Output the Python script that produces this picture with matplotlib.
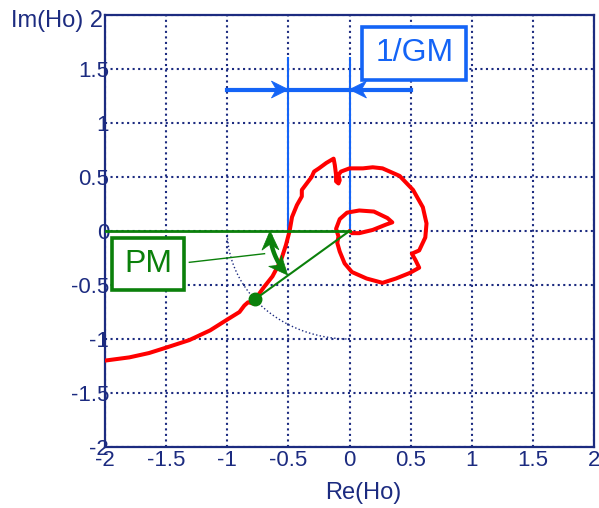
import numpy as np
import matplotlib
matplotlib.use('Agg')
import matplotlib.pyplot as plt
from matplotlib.patches import Polygon, Rectangle

# Nyquist curve Ho(jw)
re_ho = [-2.00, -1.80, -1.64, -1.50, -1.31, -1.14, -1.00, -0.90, -0.86, -0.83,
         -0.79, -0.77, -0.70, -0.63, -0.56, -0.52, -0.49, -0.47, -0.43, -0.39,
         -0.39, -0.35, -0.31, -0.29, -0.25, -0.19, -0.13, -0.12, -0.11, -0.11,
         -0.09, -0.08, -0.09, -0.07, 0.00, 0.11, 0.19, 0.27, 0.41, 0.52,
         0.60, 0.63, 0.62, 0.57, 0.51, 0.54, 0.57, 0.49, 0.38, 0.27,
         0.14, 0.02, -0.04, -0.08, -0.10, -0.09, -0.11, -0.08, -0.02, 0.08,
         0.20, 0.31, 0.35, 0.30, 0.19, 0.08, 0.02, 0.00]
im_ho = [-1.20, -1.17, -1.13, -1.08, -1.01, -0.92, -0.82, -0.75, -0.69, -0.66,
         -0.67, -0.63, -0.52, -0.42, -0.27, -0.13, 0.00, 0.13, 0.24, 0.32,
         0.38, 0.44, 0.50, 0.55, 0.58, 0.63, 0.67, 0.61, 0.52, 0.46,
         0.44, 0.47, 0.52, 0.55, 0.58, 0.58, 0.59, 0.58, 0.51, 0.38,
         0.22, 0.07, -0.06, -0.18, -0.21, -0.27, -0.34, -0.39, -0.44, -0.48,
         -0.44, -0.38, -0.30, -0.19, -0.11, -0.05, 0.02, 0.11, 0.17, 0.19,
         0.18, 0.12, 0.08, 0.06, 0.01, -0.02, -0.02, 0.00]

ticks = [-2, -1.5, -1, -0.5, 0, 0.5, 1, 1.5, 2]
xtick_labels = ['-2', '-1.5', '-1', '-0.5', '0', '0.5', '1', '1.5', '2']
ytick_labels = ['-2', '-1.5', '-1', '-0.5', '0', '0.5', '1', '1.5', '']

# annotation values
gm_x = -0.5          # crossing of the negative real axis
gm_arrow_y = 1.31
gm_line_top = 1.6
pm_point = (-0.77, -0.63)
pm_radius = 0.65
pm_angle_end = 218.8

NAVY = '#1c2b80'
RED = '#ff0000'
BLUE = '#1464f6'
GREEN = '#0b800b'

plt.rcParams['font.family'] = ['Liberation Sans', 'DejaVu Sans']

fig = plt.figure(figsize=(5.99, 5.08), dpi=100)
ax = fig.add_axes([105/599, 61/508, 489/599, 432/508])
ax.set_xlim(-2, 2)
ax.set_ylim(-2, 2)
ax.set_xticks(ticks)
ax.set_xticklabels(xtick_labels)
ax.set_yticks(ticks)
ax.set_yticklabels(ytick_labels)
ax.grid(True, linestyle=':', color=NAVY, lw=1.5)
ax.set_axisbelow(True)
ax.tick_params(axis='both', length=0, labelsize=16, colors=NAVY)
ax.tick_params(axis='y', pad=-3)
ax.tick_params(axis='x', pad=2)
for s in ax.spines.values():
    s.set_color(NAVY)
    s.set_linewidth(1.6)

fig.text(103/599, 1 - 21/508, 'Im(Ho) 2', ha='right', va='center',
         fontsize=17, color=NAVY)
fig.text(363/599, 1 - 493/508, 'Re(Ho)', ha='center', va='center',
         fontsize=17, color=NAVY)

# unit circle (dotted)
th = np.linspace(np.pi, 1.5*np.pi, 100)
ax.plot(np.cos(th), np.sin(th), ':', color=NAVY, lw=1.0, zorder=2)

# Nyquist curve
ax.plot(re_ho, im_ho, color=RED, lw=2.9, solid_joinstyle='round',
        solid_capstyle='round', zorder=4)

fig.canvas.draw()
T = ax.transData


def stealth(tip, direction, color, length=17, width=17, notch=5, z=6):
    """Arrow head with concave back; tip in data coords, direction in display."""
    tx, ty = T.transform(tip)
    d = np.asarray(direction, float)
    d = d / np.hypot(*d)
    n = np.array([-d[1], d[0]])
    base = np.array([tx, ty]) - d*length
    pts = [(tx, ty),
           tuple(base + n*width/2),
           tuple(base + d*notch),
           tuple(base - n*width/2)]
    pts_data = T.inverted().transform(pts)
    ax.add_patch(Polygon(pts_data, closed=True, facecolor=color,
                         edgecolor=color, lw=0.5, zorder=z))

# ---- gain margin (blue)
ax.plot([gm_x, gm_x], [0, gm_line_top], color=BLUE, lw=1.5, zorder=3)
ax.plot([0, 0], [0, gm_line_top], color=BLUE, lw=1.5, zorder=3)
ax.plot([-1.0, 0.5], [gm_arrow_y, gm_arrow_y], color=BLUE, lw=3, zorder=5)
stealth((gm_x, gm_arrow_y), (1, 0), BLUE)
stealth((0, gm_arrow_y), (-1, 0), BLUE)
ax.add_patch(Rectangle((0.106, 1.40), 0.85, 0.49, facecolor='white',
                       edgecolor=BLUE, lw=2.6, zorder=6))
ax.text(0.53, 1.645, '1/GM', ha='center', va='center', fontsize=23,
        color=BLUE, zorder=7)

# ---- phase margin (green)
ax.plot([-2, 0], [0, 0], color=GREEN, lw=2, zorder=5)
ax.plot([0, pm_point[0]], [0, pm_point[1]], color=GREEN, lw=1.5, zorder=5)
ax.plot([pm_point[0]], [pm_point[1]], 'o', color=GREEN, ms=9, zorder=6)

a = np.radians(np.linspace(183, pm_angle_end - 3.5, 60))
ax.plot(pm_radius*np.cos(a), pm_radius*np.sin(a), color=GREEN, lw=3.2,
        solid_capstyle='butt', zorder=5)


def arc_head(angle_deg, sign):
    t = np.radians(angle_deg)
    tip = (pm_radius*np.cos(t), pm_radius*np.sin(t))
    t2 = np.radians(angle_deg + sign*2)
    p2 = (pm_radius*np.cos(t2), pm_radius*np.sin(t2))
    d = T.transform(tip) - T.transform(p2)
    stealth(tip, d, GREEN, length=19, width=17, notch=6)

arc_head(180, 1)
arc_head(pm_angle_end, -1)

ax.plot([-1.31, -0.695], [-0.29, -0.21], color=GREEN, lw=1.0, zorder=5)
ax.add_patch(Rectangle((-1.94, -0.546), 0.59, 0.48, facecolor='white',
                       edgecolor=GREEN, lw=2.6, zorder=6))
ax.text(-1.645, -0.31, 'PM', ha='center', va='center', fontsize=23,
        color=GREEN, zorder=7)

fig.savefig('out.png', dpi=100)
